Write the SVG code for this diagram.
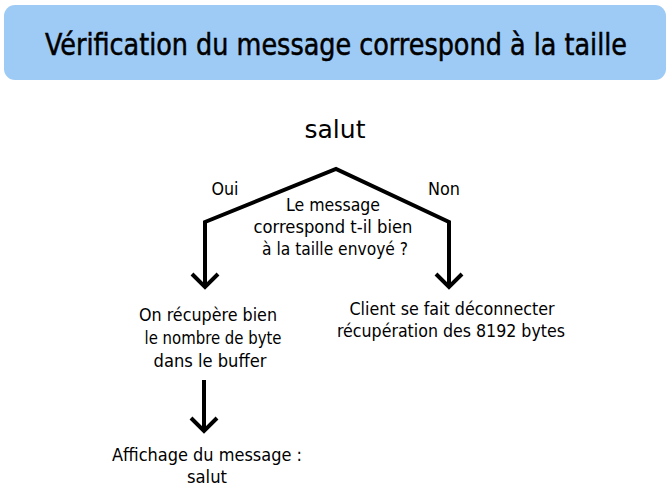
<svg xmlns="http://www.w3.org/2000/svg" width="672" height="493" viewBox="0 0 672 493">
<style>
text{font-family:"DejaVu Sans","Liberation Sans",Arial,sans-serif;font-stretch:condensed;fill:#000;text-anchor:middle}
.t{font-size:17.5px}
.c{fill:none;stroke:#000;stroke-width:4;stroke-linejoin:miter;stroke-linecap:butt}
</style>
<rect width="672" height="493" fill="#fff"/>
<g id="title">
<rect x="4" y="5" width="662" height="75" rx="11" fill="#9ecbf5"/>
<text x="336" y="55" font-size="30" stroke="#000" stroke-width="0.5" textLength="582" lengthAdjust="spacingAndGlyphs">Vérification du message correspond à la taille</text>
</g>
<g id="connectors">
<path class="c" d="M205,286 V222 L336,169 L449,222 V286"/>
<path d="M192,274 L205,287 L218,274" class="c"/>
<path d="M436,274 L449,287 L462,274" class="c"/>
<path class="c" d="M204,380 V431"/>
<path d="M191,418 L204,431 L217,418" class="c"/>
<text class="t" x="225" y="195" textLength="27" lengthAdjust="spacingAndGlyphs">Oui</text>
<text class="t" x="444" y="195" textLength="32" lengthAdjust="spacingAndGlyphs">Non</text>
</g>
<g id="start">
<text x="335" y="138" font-size="25" textLength="61" lengthAdjust="spacingAndGlyphs">salut</text>
</g>
<g id="decision">
<text class="t" x="333" y="211" textLength="94" lengthAdjust="spacingAndGlyphs">Le message</text>
<text class="t" x="333" y="233" textLength="159" lengthAdjust="spacingAndGlyphs">correspond t-il bien</text>
<text class="t" x="335" y="255" textLength="146" lengthAdjust="spacingAndGlyphs">à la taille envoyé ?</text>
</g>
<g id="oui-node">
<text class="t" x="208" y="321" textLength="138" lengthAdjust="spacingAndGlyphs">On récupère bien</text>
<text class="t" x="213" y="344" textLength="137" lengthAdjust="spacingAndGlyphs">le nombre de byte</text>
<text class="t" x="210" y="367" textLength="113" lengthAdjust="spacingAndGlyphs">dans le buffer</text>
</g>
<g id="non-node">
<text class="t" x="452" y="315" textLength="205" lengthAdjust="spacingAndGlyphs">Client se fait déconnecter</text>
<text class="t" x="451" y="337" textLength="228" lengthAdjust="spacingAndGlyphs">récupération des 8192 bytes</text>
</g>
<g id="affichage">
<text class="t" x="207" y="461" textLength="190" lengthAdjust="spacingAndGlyphs">Affichage du message :</text>
<text class="t" x="207" y="483" textLength="40" lengthAdjust="spacingAndGlyphs">salut</text>
</g>
</svg>
